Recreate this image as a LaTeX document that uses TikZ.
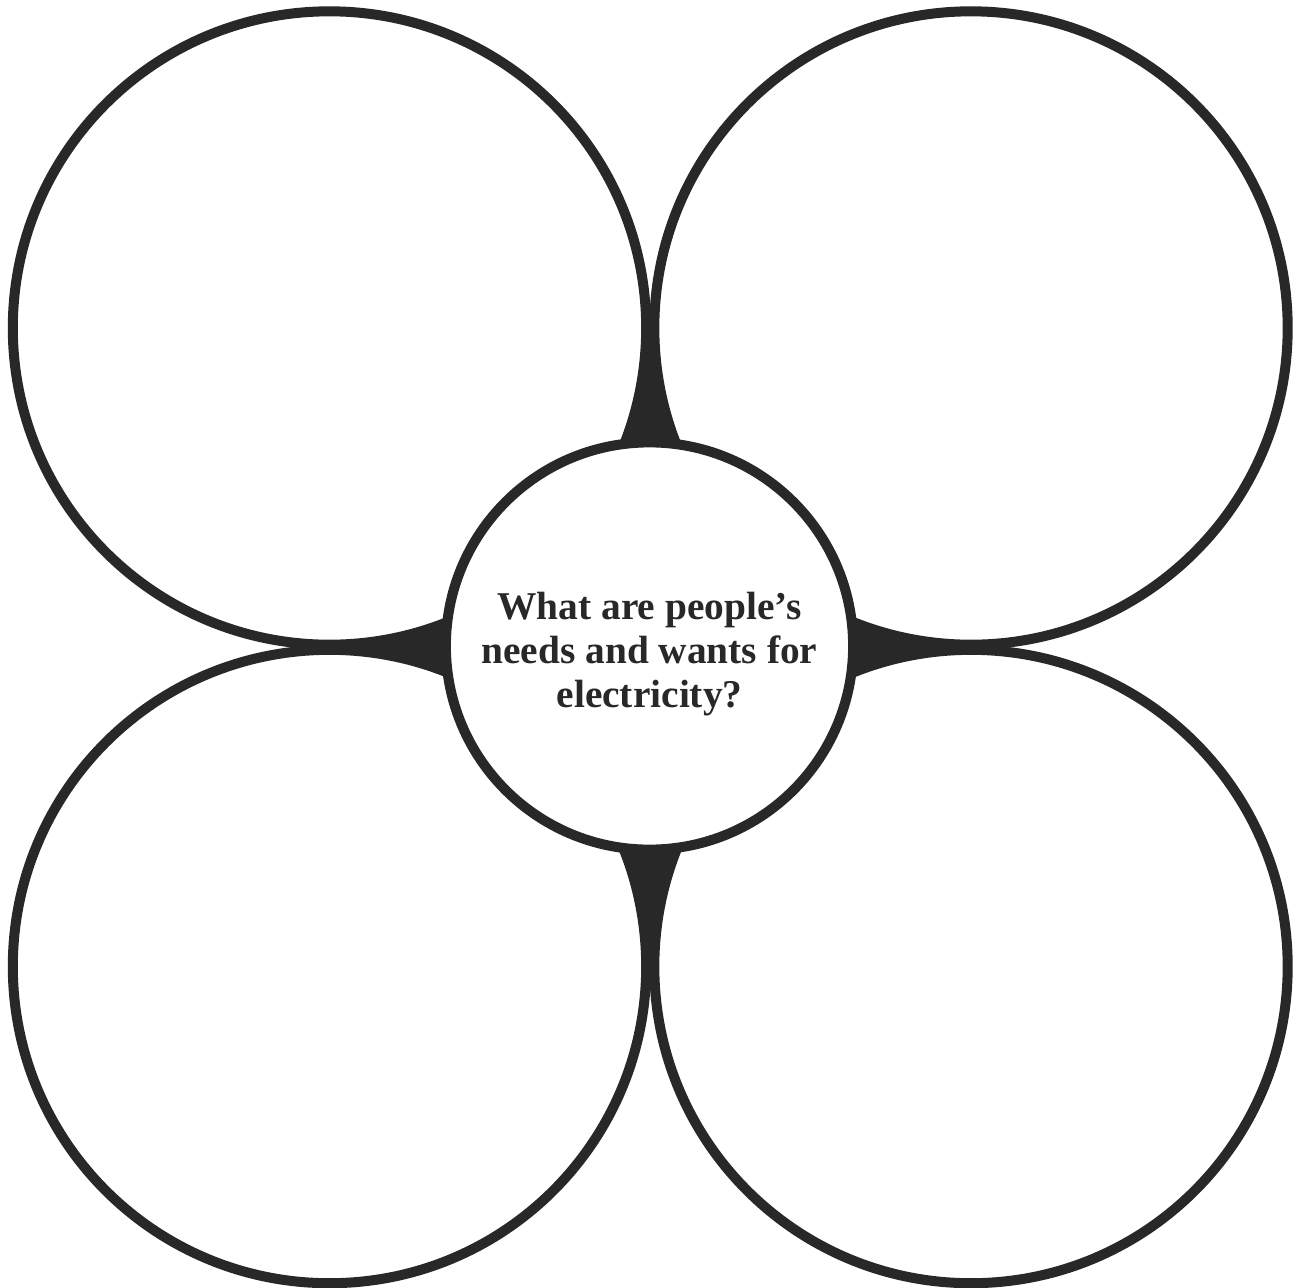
\documentclass[tikz,border=0pt]{standalone}
\usepackage{fontspec}
\setmainfont{Liberation Serif}
\definecolor{ink}{RGB}{40,40,40}

\begin{document}
\begin{tikzpicture}[x=0.01cm,y=-0.01cm,
  bigring/.style={circle,draw=ink,line width=1mm,minimum size=6.33cm,inner sep=0pt},
  hubring/.style={circle,draw=ink,fill=white,line width=1mm,minimum size=4.07cm,inner sep=0pt},
  hubtext/.style={align=center,font=\bfseries\fontsize{11.2}{12.6}\selectfont,text=ink},
  web/.style={fill=ink}]
\useasboundingbox (0,0) rectangle (1297,1287);
\node[bigring] (tl) at (329.5,328) {};
\node[bigring] (tr) at (971,328) {};
\node[bigring] (bl) at (329.5,966.5) {};
\node[bigring] (br) at (971,966.5) {};
% webs between the rings
\fill[web] (647,328) .. controls (649,390) and (634,420) .. (622,446)
  -- (677,446) .. controls (665,420) and (651,390) .. (652,328) -- cycle;
\fill[web] (647,966) .. controls (649,904) and (634,874) .. (622,846)
  -- (677,846) .. controls (665,874) and (651,904) .. (652,966) -- cycle;
\fill[web] (330,644) .. controls (390,646) and (420,632) .. (450,618)
  -- (450,675) .. controls (420,661) and (390,649) .. (330,649) -- cycle;
\fill[web] (970,644) .. controls (910,646) and (880,632) .. (849,618)
  -- (849,675) .. controls (880,661) and (910,649) .. (970,649) -- cycle;
\node[hubring] (q) at (649.5,646) {};
\node[hubtext] (qtext) at ([yshift=-0.08cm]q.center) {What are people’s\\ needs and wants for\\ electricity?};
\end{tikzpicture}
\end{document}
